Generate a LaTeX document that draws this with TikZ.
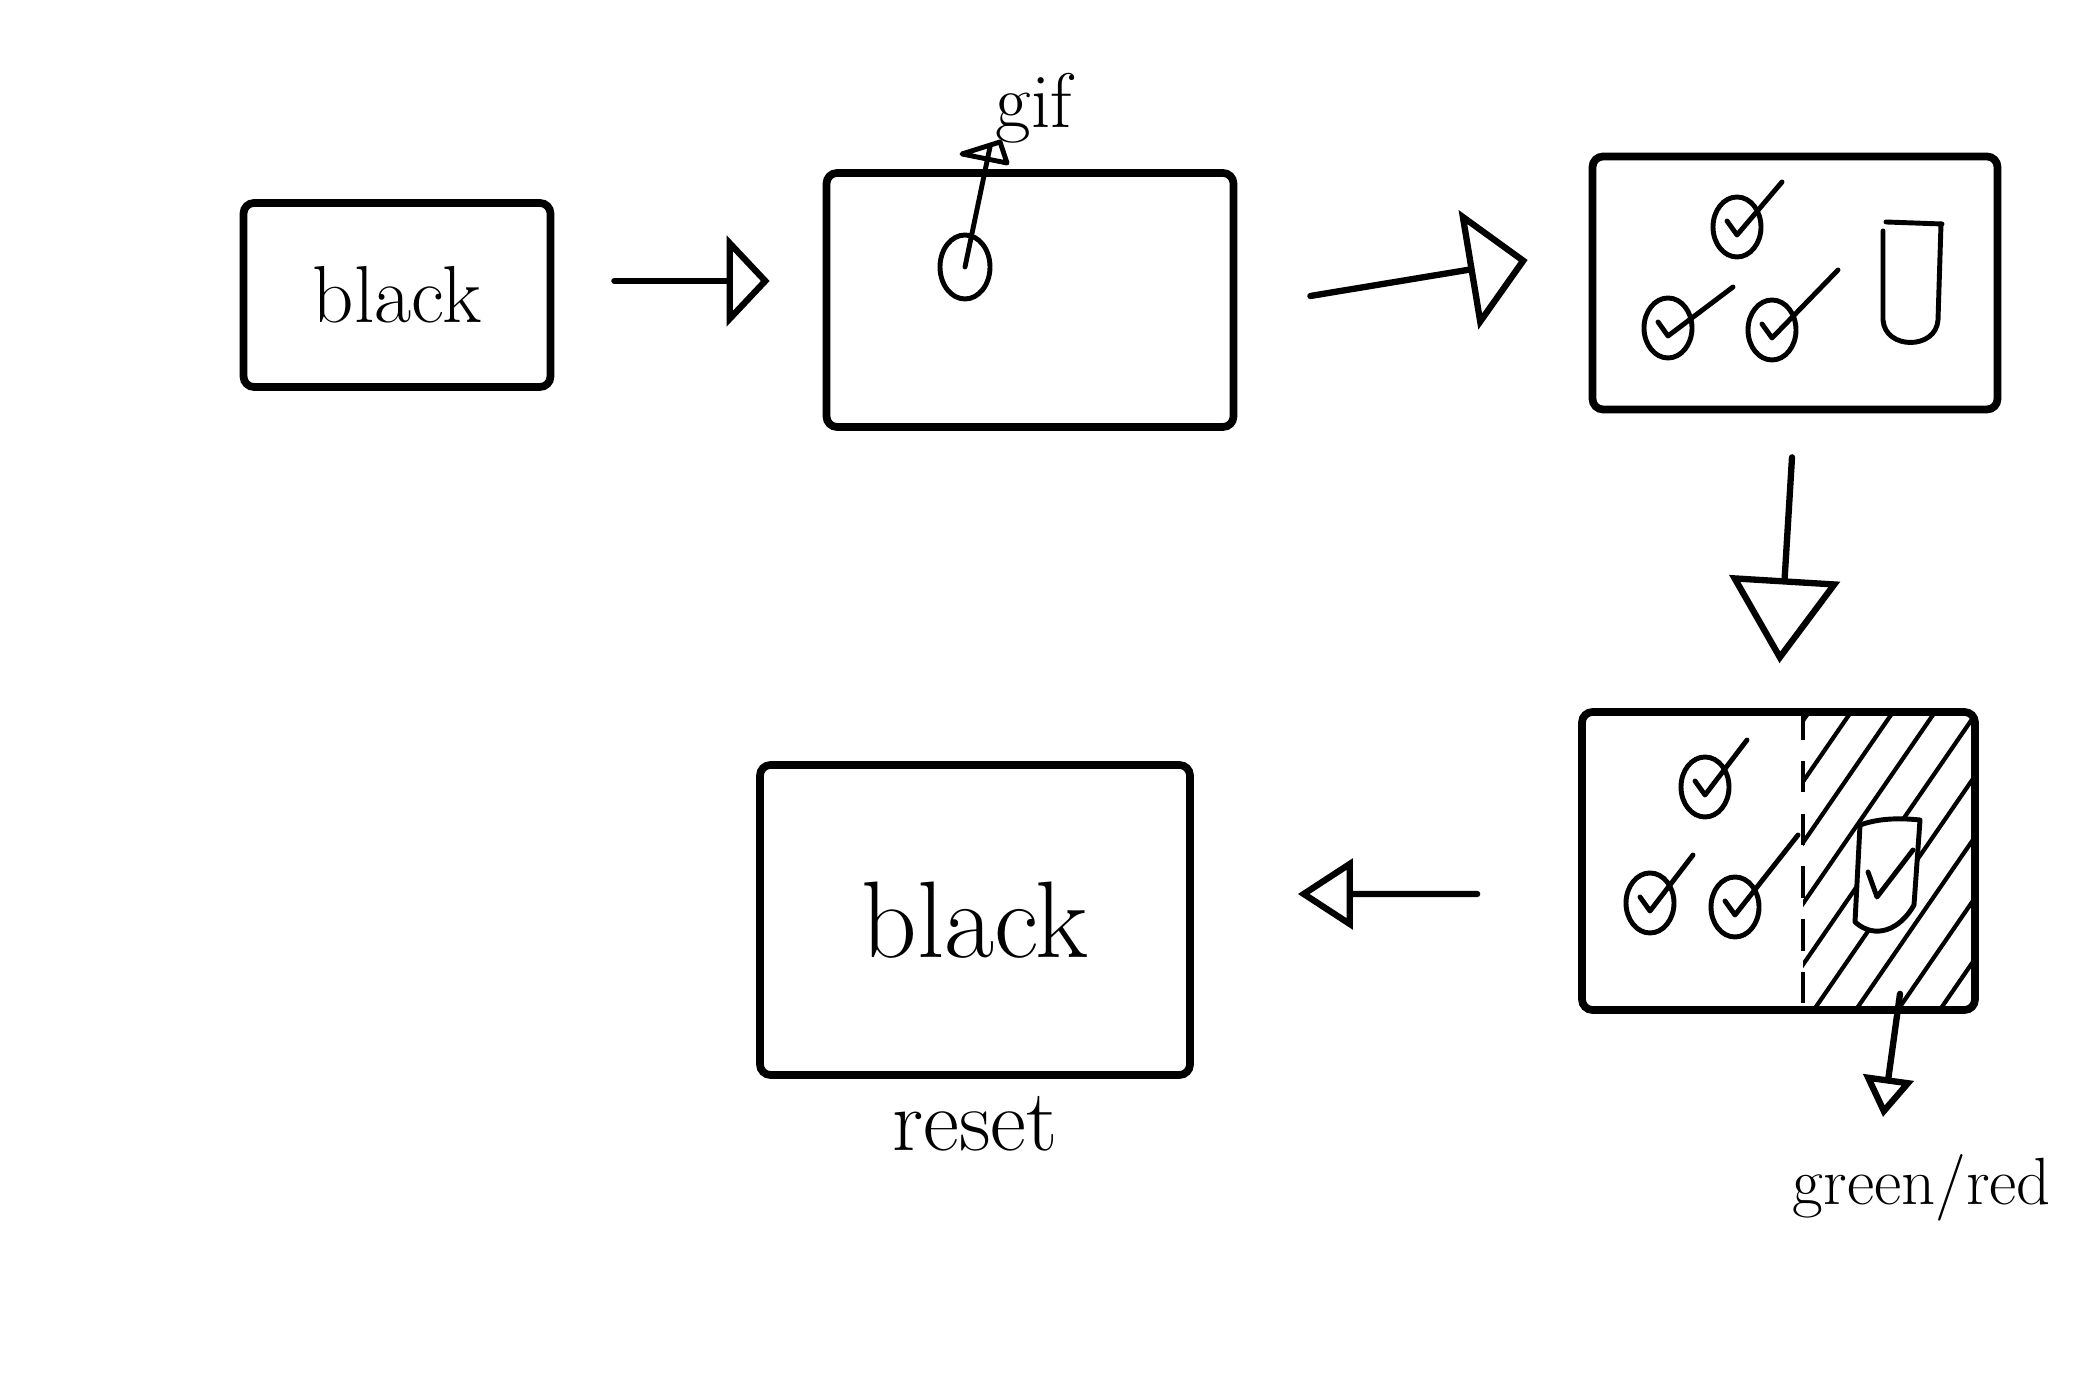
\documentclass[tikz,border=0pt]{standalone}
\usepackage{tikz}
\usetikzlibrary{positioning,arrows.meta,calc,shapes.geometric}

\tikzset{
  screen/.style={draw,line width=2.2pt,rounded corners=3pt,inner sep=0pt},
  flow/.style={line width=1.8pt,line cap=round},
  ink/.style={line width=1.4pt,line cap=round,line join=round},
  hand/.style={font=\fontsize{#1}{#1}\selectfont},
  pics/chk/.style={code={
    \draw[ink] (0,0) ellipse (0.24 and 0.3);
    \draw[ink] (-0.1,0.06) -- (0,-0.08) -- (#1);}},
}

\begin{document}
\begin{tikzpicture}
  \useasboundingbox (0,0) rectangle (20.92,13.80);

  % screens
  \node[screen,minimum width=3.07cm,minimum height=1.84cm,hand=23] (b1) at (3.97,10.85) {black};
  \node[screen,minimum width=4.07cm,minimum height=2.54cm] (b2) at (10.30,10.80) {};
  \node[screen,minimum width=4.05cm,minimum height=2.53cm] (b3) at (17.95,10.97) {};
  \node[screen,minimum width=3.93cm,minimum height=2.98cm] (b4) at (17.785,5.19) {};
  \node[screen,minimum width=4.30cm,minimum height=3.10cm,hand=31] (b5) at (9.75,4.60) {black};
    \node[below=0.05cm of b5,hand=25] (rst) {reset};

  % gif pin
  \node[ellipse,draw,ink,minimum width=0.5cm,minimum height=0.64cm,inner sep=0pt] (pin) at (9.65,11.13) {};
  \coordinate (pintop) at (9.90,12.33);
  \draw[ink] (pin.center) -- (pintop);
  \draw[ink] (9.62,12.26) -- (10.0,12.38) -- (10.07,12.17) -- cycle;
  \node[hand=22] (gif) at (10.34,12.72) {gif};

  % ticks on screen 3
  \pic at (17.37,11.53) {chk={0.45,0.45}};
  \pic at (16.68,10.52) {chk={0.65,0.41}};
  \pic at (17.72,10.50) {chk={0.66,0.60}};
  \draw[ink] (18.86,11.58) -- (19.42,11.56);
  \draw[ink] (18.83,11.49) -- (18.83,10.60) .. controls (18.85,10.30) and (19.36,10.30) .. (19.38,10.60) -- (19.41,11.56);

  % screen 4, hatched part
  \coordinate (cutT) at ([xshift=2.25cm]b4.north west);
  \coordinate (cutB) at ([xshift=2.25cm]b4.south west);
  \begin{scope}
    \clip ([yshift=0.04cm]cutB) rectangle ([shift={(-0.04,-0.04)}]b4.north east);
    \foreach \k in {0,...,10}
      \draw[line width=1.2pt] (15.9+\k*0.42,3.5) -- ++(2.3,3.34);
  \end{scope}
  \draw[line width=1pt,dash pattern=on 9pt off 6pt] (cutT) -- (cutB);
  \pic at (17.05,5.93) {chk={0.42,0.47}};
  \pic at (16.50,4.77) {chk={0.43,0.48}};
  \pic at (17.35,4.73) {chk={0.63,0.72}};
  \draw[ink,fill=white] (18.60,5.55) .. controls (18.80,5.62) and (19.00,5.62) .. (19.20,5.60)
    -- (19.14,4.75) .. controls (19.00,4.50) and (18.75,4.40) .. (18.55,4.58) -- cycle;
  \draw[ink] (18.68,5.08) -- (18.77,4.83) -- (19.13,5.30);

  % arrows
  \draw[flow,-{Triangle[open,length=4.3mm,width=9mm]}] ([shift={(0.60,0.14)}]b1.east) -- ([shift={(-0.53,0.19)}]b2.west);
  \draw[flow,-{Triangle[open,length=6mm,width=12mm]}] ([shift={(0.73,0.04)}]b2.east) -- ([shift={(-0.61,0.23)}]b3.west);
  \draw[flow,-{Triangle[open,length=8.5mm,width=11mm]}] ([shift={(-0.03,-0.44)}]b3.south) -- ([shift={(0.01,0.45)}]b4.north);
  \draw[flow,-{Triangle[open,length=5.5mm,width=7mm]}] ([shift={(-1.01,-0.33)}]b4.west) -- ([shift={(1.04,0.26)}]b5.east);
  \coordinate (grtip) at (18.83,2.63);
  \draw[flow,-{Triangle[open,length=4mm,width=5mm]}] ([shift={(1.215,0.20)}]b4.south) -- (grtip);
  \node[hand=19] (gr) at (19.22,1.92) {green/red};
\end{tikzpicture}
\end{document}
